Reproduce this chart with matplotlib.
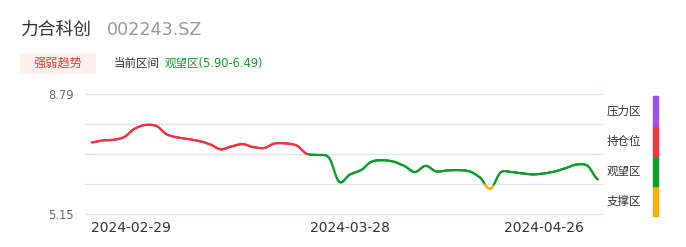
import numpy as np
import matplotlib
matplotlib.use("Agg")
import matplotlib.pyplot as plt
from matplotlib.collections import LineCollection
from matplotlib.patches import FancyBboxPatch

plt.rcParams["font.family"] = ["DejaVu Sans", "Noto Sans CJK SC"]

# data (daily closes, index 0 = first trading day shown)
prices = [7.33, 7.39, 7.41, 7.49, 7.75, 7.86, 7.83, 7.57, 7.48, 7.43,
          7.37, 7.27, 7.12, 7.21, 7.28, 7.19, 7.16, 7.30, 7.30, 7.24,
          6.98, 6.95, 6.88, 6.13, 6.36, 6.49, 6.75, 6.79, 6.75, 6.62,
          6.43, 6.62, 6.45, 6.48, 6.49, 6.46, 6.28, 5.92, 6.43, 6.43,
          6.39, 6.36, 6.39, 6.45, 6.55, 6.66, 6.63, 6.21]
tick_idx = [3.6, 24, 42]
tick_labels = ["2024-02-29", "2024-03-28", "2024-04-26"]
zone_bounds = [5.15, 6.06, 6.97, 7.88, 8.79]
zone_names = ["支撑区", "观望区", "持仓位", "压力区"]
zone_colors = ["#fdab00", "#0d9e2a", "#f5333f", "#a24cf0"]


def smooth(y, k=12):
    # catmull-rom through the points, just for drawing
    y = np.asarray(y, float)
    p = np.concatenate([[y[0]], y, [y[-1]]])
    xs, ys = [], []
    t = np.linspace(0, 1, k, endpoint=False)
    for i in range(len(y) - 1):
        p0, p1, p2, p3 = p[i], p[i + 1], p[i + 2], p[i + 3]
        m1 = (p2 - p0) / 2 * 0.8
        m2 = (p3 - p1) / 2 * 0.8
        h00 = 2 * t**3 - 3 * t**2 + 1
        h10 = t**3 - 2 * t**2 + t
        h01 = -2 * t**3 + 3 * t**2
        h11 = t**3 - t**2
        xs.append(i + t)
        ys.append(h00 * p1 + h10 * m1 + h01 * p2 + h11 * m2)
    xs.append([len(y) - 1])
    ys.append([y[-1]])
    return np.concatenate(xs), np.concatenate(ys)


fig = plt.figure(figsize=(6.86, 2.47), dpi=100)
ax = fig.add_axes([85 / 686, 1 - 214.3 / 247, 518 / 686, 120 / 247])

sx, sy = smooth(prices)
pts = np.column_stack([sx, sy]).reshape(-1, 1, 2)
segs = np.concatenate([pts[:-1], pts[1:]], axis=1)
mid = (sy[:-1] + sy[1:]) / 2
cols = [zone_colors[min(max(np.searchsorted(zone_bounds, v) - 1, 0), 3)] for v in mid]
lc = LineCollection(segs, colors=cols, linewidths=1.6, capstyle="round", zorder=3)
ax.add_collection(lc)

ax.set_xlim(-0.62, 47.47)
ax.set_ylim(zone_bounds[0], zone_bounds[-1])
for b in zone_bounds:
    ax.axhline(b, color="#dfe3f0", lw=0.9, zorder=1, clip_on=False)
for s in ax.spines.values():
    s.set_visible(False)
ax.set_yticks([zone_bounds[0], zone_bounds[-1]])
ax.set_yticklabels(["%.2f" % zone_bounds[0], "%.2f" % zone_bounds[-1]], fontsize=8.3, color="#666666")
ax.set_xticks(tick_idx)
ax.set_xticklabels(tick_labels, fontsize=10, color="#333333")
ax.tick_params(length=0, axis="y", pad=8)
ax.tick_params(length=0, axis="x", pad=5)

# zone bar on the right
for i, name in enumerate(zone_names):
    y0 = 216 - 30 * i
    fig.patches.append(plt.Rectangle((653 / 686, 1 - y0 / 247), 5 / 686, 30 / 247,
                                     transform=fig.transFigure, color=zone_colors[i]))
    fig.text(607 / 686, 1 - (y0 - 15) / 247, name, fontsize=8.3, color="#333333",
             ha="left", va="center")

# header
fig.text(20 / 686, 1 - 30 / 247, "力合科创", fontsize=12.8, color="#333333", va="center")
fig.text(107 / 686, 1 - 30 / 247, "002243.SZ", fontsize=12.6, color="#999999", va="center")
fig.patches.append(FancyBboxPatch((20 / 686, 1 - 74 / 247), 76 / 686, 21 / 247,
                                  boxstyle="square,pad=0", transform=fig.transFigure,
                                  facecolor="#fff0ee", edgecolor="none"))
fig.text(58 / 686, 1 - 63 / 247, "强弱趋势", fontsize=8.8, color="#f5333f", ha="center", va="center")
fig.text(114 / 686, 1 - 63 / 247, "当前区间", fontsize=8.3, color="#333333", va="center")
fig.text(165 / 686, 1 - 63 / 247, "观望区(5.90-6.49)", fontsize=8.3, color="#0d9e2a", va="center")

fig.savefig("out.png", dpi=100)
